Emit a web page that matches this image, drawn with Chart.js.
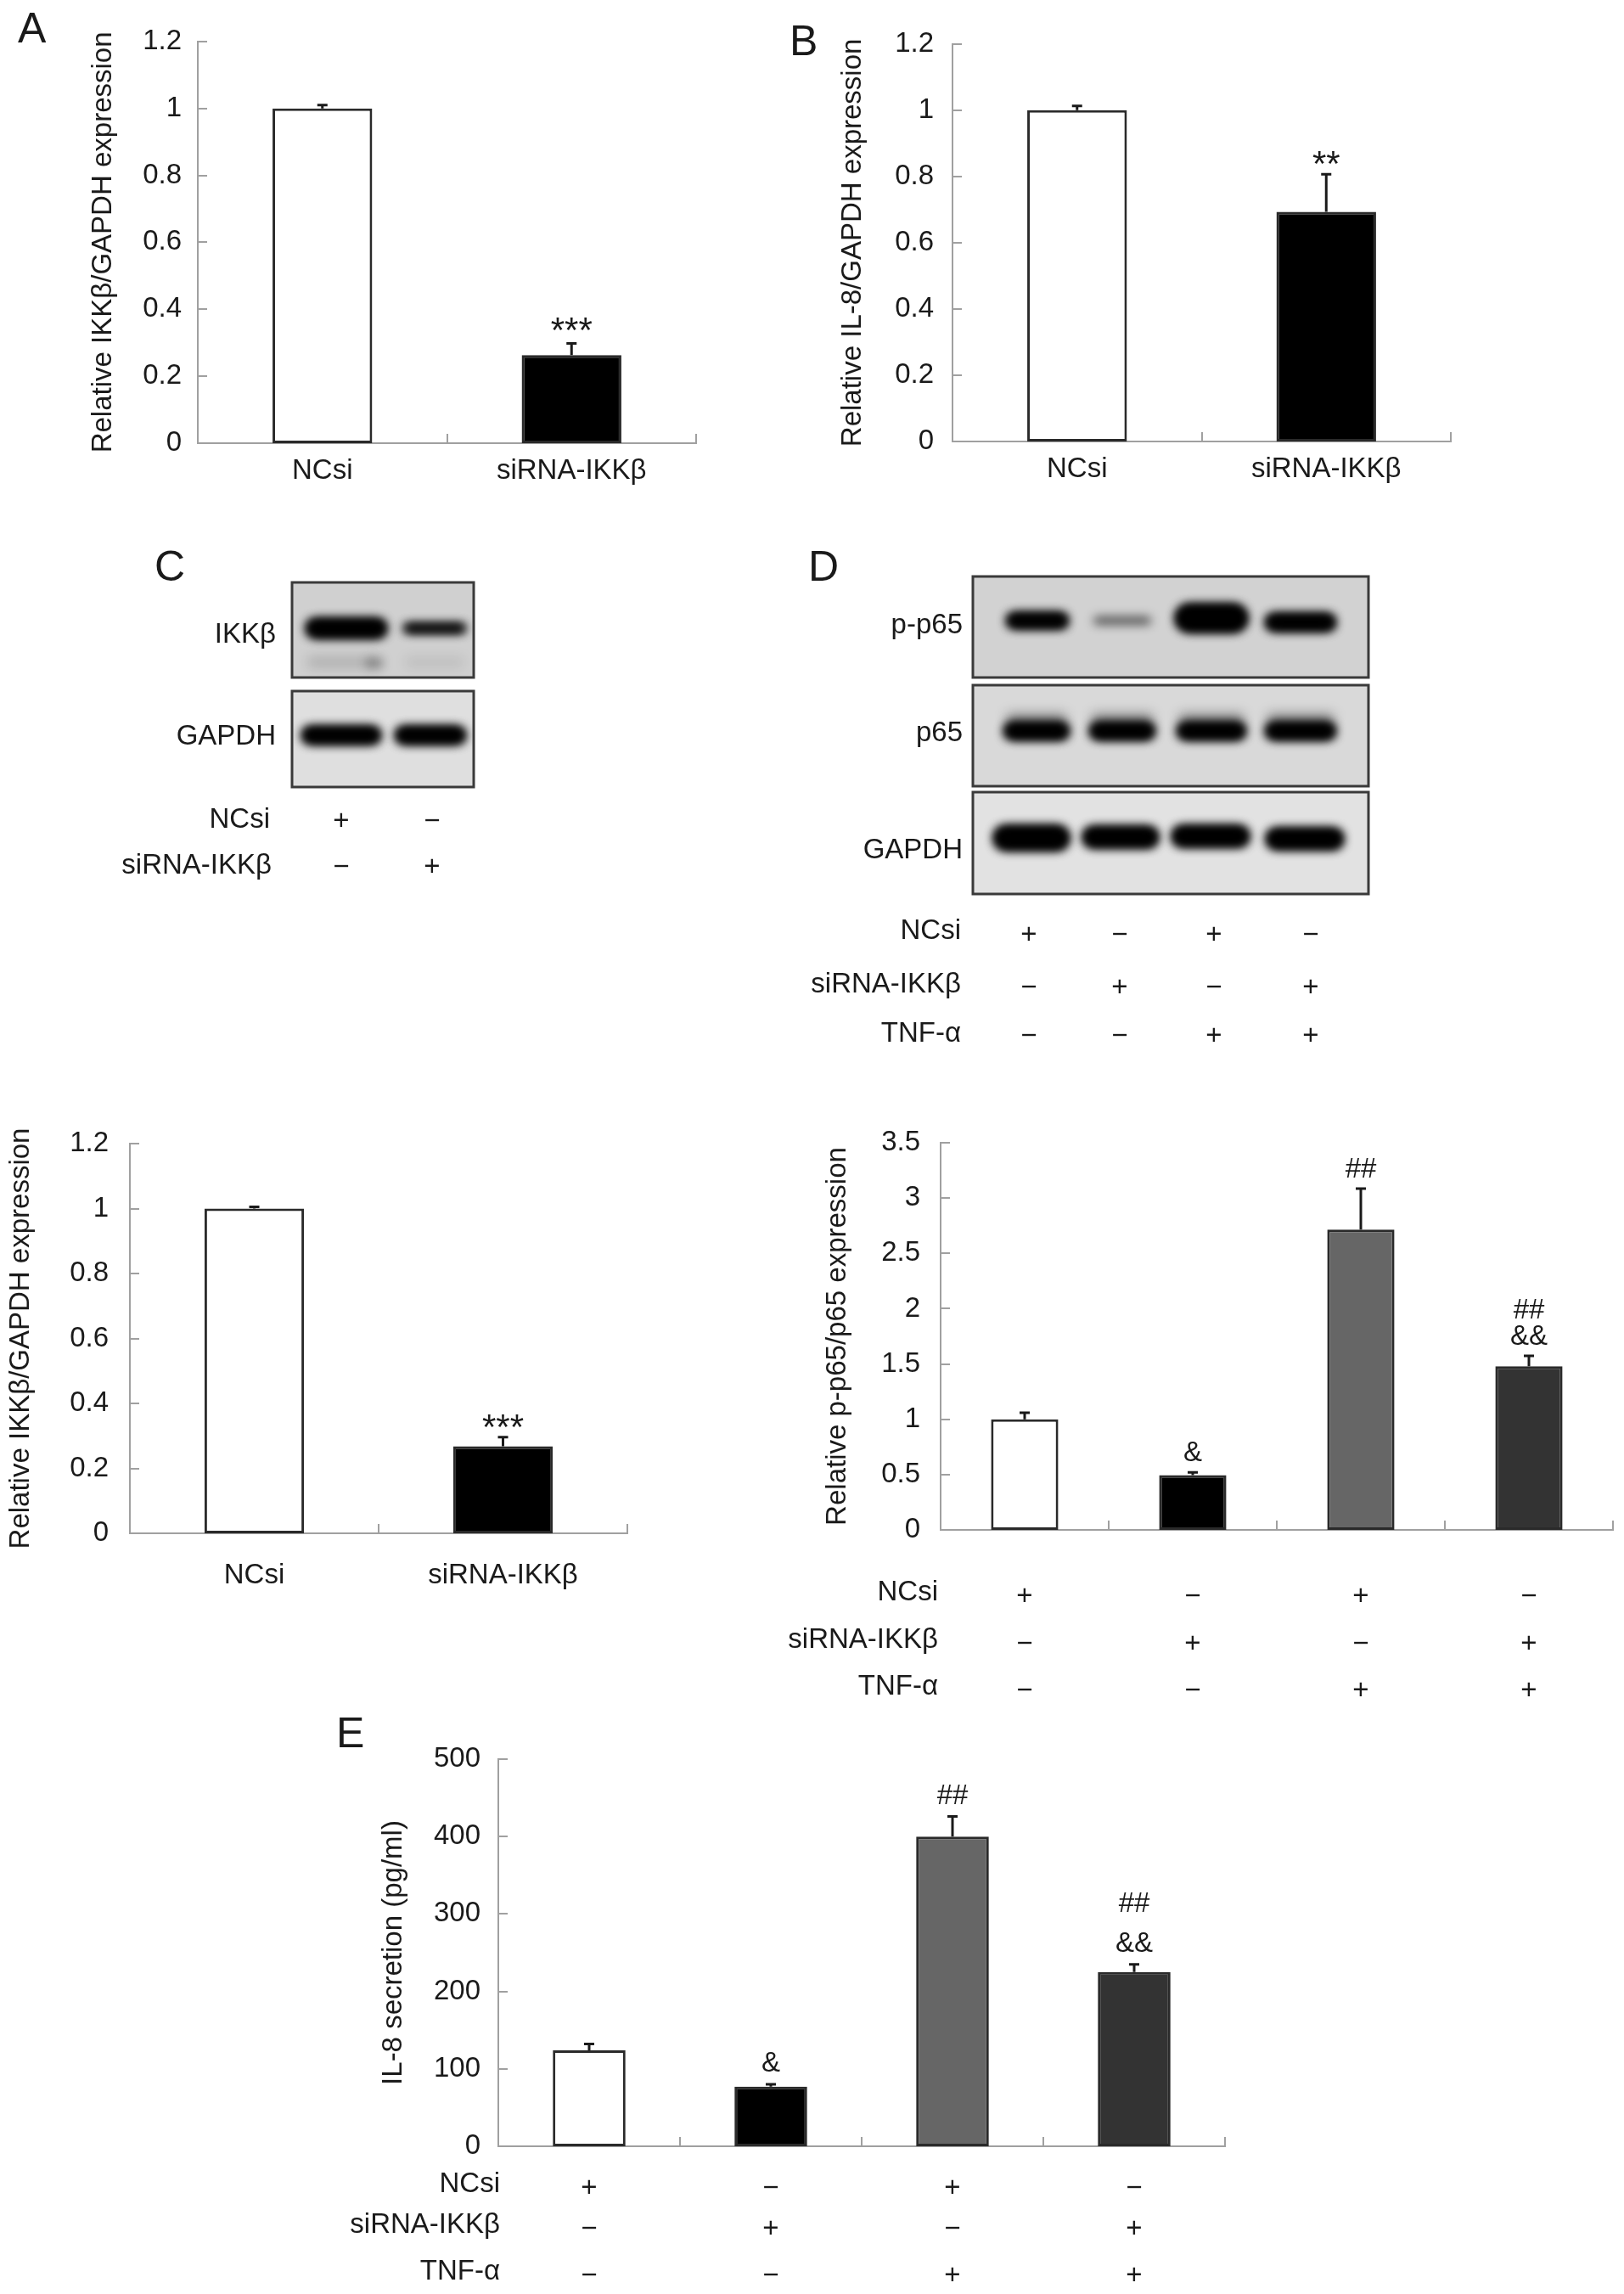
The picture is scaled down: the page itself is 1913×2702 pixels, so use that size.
<!DOCTYPE html>
<html>
<head>
<meta charset="utf-8">
<script src="https://cdn.jsdelivr.net/npm/chart.js@4.4.1/dist/chart.umd.min.js"></script>
<style>
  html, body { margin: 0; padding: 0; background: #fff; }
  #page { position: relative; width: 1913px; height: 2702px; overflow: hidden;
          font-family: 'Liberation Sans', Arial, sans-serif; color: #1a1a1a; }
  canvas { position: absolute; }
  .txt { position: absolute; white-space: nowrap; line-height: 1; }
</style>
</head>
<body>
<div id="page">
  <canvas id="blots" width="1913" height="1300" style="left:0;top:0"></canvas>
  <canvas id="chartA"></canvas>
  <canvas id="chartB"></canvas>
  <canvas id="chartC"></canvas>
  <canvas id="chartD"></canvas>
  <canvas id="chartE"></canvas>
</div>
<script>
// ---- data ----
const twoGroups = ['NCsi', 'siRNA-IKKβ'];
const fourGroups = ['NCsi', 'siRNA-IKKβ', 'NCsi + TNF-α', 'siRNA-IKKβ + TNF-α'];

const ikkMrna = [1.0, 0.263];
const ikkMrnaErr = [0.01, 0.035];
const il8Mrna = [1.0, 0.693];
const il8MrnaErr = [0.013, 0.114];
const ikkProtein = [1.0, 0.268];
const ikkProteinErr = [0.005, 0.028];
const pp65Ratio = [1.0, 0.495, 2.716, 1.48];
const pp65RatioErr = [0.06, 0.025, 0.37, 0.094];
const il8Secretion = [124, 77, 400, 225];
const il8SecretionErr = [8, 3, 26, 10];

const sigA = [[], ['***']];
const sigB = [[], ['**']];
const sigC = [[], ['***']];
const sigD = [[], ['&'], ['##'], ['##', '&&']];
const sigE = [[], ['&'], ['##'], ['##', '&&']];

const yTicksRel = [0, 0.2, 0.4, 0.6, 0.8, 1, 1.2];
const yTicksP65 = [0, 0.5, 1, 1.5, 2, 2.5, 3, 3.5];
const yTicksIL8 = [0, 100, 200, 300, 400, 500];

const treatmentNames = ['NCsi', 'siRNA-IKKβ', 'TNF-α'];
const ncsiSigns = ['+', '−', '+', '−'];
const sirnaSigns = ['−', '+', '−', '+'];
const tnfSigns = ['−', '−', '+', '+'];
const ncsiSigns2 = ['+', '−'];
const sirnaSigns2 = ['−', '+'];

const fills2 = ['#ffffff', '#000000'];
const fills4 = ['#ffffff', '#000000', '#666666', '#333333'];

const FONT = "'Liberation Sans', Arial, sans-serif";
const AXIS_GRAY = '#a0a0a0';
const INK = '#1a1a1a';

// ---- static text ----
const page = document.getElementById('page');
function addText(str, x, cy, size, align) {
  const d = document.createElement('div');
  d.className = 'txt';
  d.textContent = str;
  d.style.fontSize = size + 'px';
  d.style.left = x + 'px';
  d.style.top = (cy - 0.4885 * size) + 'px';
  if (align === 'right') d.style.transform = 'translateX(-100%)';
  if (align === 'center') d.style.transform = 'translateX(-50%)';
  page.appendChild(d);
}

// panel letters
addText('A', 21, 32, 50);
addText('B', 930, 47, 50);
addText('C', 182, 666, 50);
addText('D', 952, 666, 50);
addText('E', 396, 2040, 50);

// blot C labels
addText('IKKβ', 325, 745, 33, 'right');
addText('GAPDH', 325, 865, 33, 'right');
addText('NCsi', 318, 963, 33, 'right');
addText('siRNA-IKKβ', 320, 1017, 33, 'right');
const laneC = [402, 509];
laneC.forEach((x, i) => {
  addText(ncsiSigns2[i], x, 965, 33, 'center');
  addText(sirnaSigns2[i], x, 1019, 33, 'center');
});

// blot D labels
addText('p-p65', 1134, 734, 33, 'right');
addText('p65', 1134, 861, 33, 'right');
addText('GAPDH', 1134, 999, 33, 'right');
addText('NCsi', 1132, 1094, 33, 'right');
addText('siRNA-IKKβ', 1132, 1157, 33, 'right');
addText('TNF-α', 1132, 1215, 33, 'right');
const laneD = [1212, 1319, 1430, 1544];
laneD.forEach((x, i) => {
  addText(ncsiSigns[i], x, 1099, 33, 'center');
  addText(sirnaSigns[i], x, 1161, 33, 'center');
  addText(tnfSigns[i], x, 1218, 33, 'center');
});

// ---- western blot images ----
function drawBlot(ctx, box, bands) {
  ctx.save();
  ctx.fillStyle = box.bg;
  ctx.fillRect(box.x, box.y, box.w, box.h);
  ctx.beginPath();
  ctx.rect(box.x, box.y, box.w, box.h);
  ctx.clip();
  bands.forEach(b => {
    ctx.filter = 'blur(' + (b.blur || 6) + 'px)';
    ctx.globalAlpha = b.a;
    ctx.fillStyle = '#000';
    ctx.beginPath();
    ctx.roundRect(b.cx - b.w / 2, b.cy - b.h / 2, b.w, b.h, b.h / 2);
    ctx.fill();
    if (b.a === 1) ctx.fill(); // second pass keeps the core saturated
  });
  ctx.restore();
  ctx.strokeStyle = '#3a3a3a';
  ctx.lineWidth = 3;
  ctx.strokeRect(box.x, box.y, box.w, box.h);
}

const bctx = document.getElementById('blots').getContext('2d');
drawBlot(bctx, { x: 344, y: 686, w: 214, h: 112, bg: '#d0d0d0' }, [
  { cx: 408, cy: 740, w: 94, h: 22, a: 1 },
  { cx: 512, cy: 740, w: 72, h: 10, a: 1 },
  { cx: 404, cy: 780, w: 86, h: 14, a: 0.15, blur: 7 },
  { cx: 441, cy: 781, w: 22, h: 12, a: 0.3, blur: 6 },
  { cx: 512, cy: 780, w: 70, h: 12, a: 0.09, blur: 7 }
]);
drawBlot(bctx, { x: 344, y: 814, w: 214, h: 113, bg: '#dfdfdf' }, [
  { cx: 402, cy: 866, w: 92, h: 20, a: 1 },
  { cx: 507, cy: 866, w: 82, h: 20, a: 1 }
]);
drawBlot(bctx, { x: 1146, y: 679, w: 466, h: 119, bg: '#d2d2d2' }, [
  { cx: 1222, cy: 731, w: 72, h: 18, a: 1 },
  { cx: 1322, cy: 731, w: 68, h: 10, a: 0.6, blur: 6 },
  { cx: 1427, cy: 728, w: 84, h: 32, a: 1 },
  { cx: 1532, cy: 733, w: 82, h: 20, a: 1 }
]);
drawBlot(bctx, { x: 1146, y: 807, w: 466, h: 119, bg: '#d9d9d9' }, [
  { cx: 1221, cy: 846, w: 72, h: 12, a: 0.35, blur: 7 },
  { cx: 1322, cy: 846, w: 74, h: 12, a: 0.35, blur: 7 },
  { cx: 1427, cy: 846, w: 78, h: 12, a: 0.35, blur: 7 },
  { cx: 1532, cy: 846, w: 80, h: 12, a: 0.35, blur: 7 },
  { cx: 1221, cy: 861, w: 76, h: 20, a: 1 },
  { cx: 1322, cy: 861, w: 76, h: 20, a: 1 },
  { cx: 1427, cy: 861, w: 80, h: 20, a: 1 },
  { cx: 1532, cy: 861, w: 82, h: 20, a: 1 }
]);
drawBlot(bctx, { x: 1146, y: 933, w: 466, h: 120, bg: '#e2e2e2' }, [
  { cx: 1215, cy: 987, w: 88, h: 28, a: 1 },
  { cx: 1320, cy: 986, w: 88, h: 24, a: 1 },
  { cx: 1426, cy: 985, w: 90, h: 24, a: 1 },
  { cx: 1537, cy: 988, w: 90, h: 24, a: 1 }
]);

// ---- chart extras: inner ticks, error bars, significance marks, treatment rows ----
const figureExtras = {
  id: 'figureExtras',
  afterDatasetsDraw(chart, args, opts) {
    const { ctx, chartArea, scales: { x, y } } = chart;
    const values = chart.data.datasets[0].data;
    const meta = chart.getDatasetMeta(0);
    ctx.save();
    // tick marks drawn inside the axes
    ctx.strokeStyle = AXIS_GRAY;
    ctx.lineWidth = 2;
    ctx.beginPath();
    y.ticks.forEach(t => {
      if (t.value === 0) return;
      const py = Math.round(y.getPixelForValue(t.value));
      ctx.moveTo(chartArea.left, py);
      ctx.lineTo(chartArea.left + 11, py);
    });
    for (let i = 1; i <= values.length; i++) {
      const px = Math.round(x.getPixelForValue(i - 0.5));
      ctx.moveTo(px, chartArea.bottom);
      ctx.lineTo(px, chartArea.bottom - 11);
    }
    ctx.stroke();
    // error bars (upper half only)
    ctx.strokeStyle = INK;
    ctx.lineWidth = 3;
    ctx.beginPath();
    opts.errors.forEach((e, i) => {
      const bar = meta.data[i];
      const top = y.getPixelForValue(values[i] + e);
      ctx.moveTo(bar.x, bar.y);
      ctx.lineTo(bar.x, top);
      ctx.moveTo(bar.x - 6, top);
      ctx.lineTo(bar.x + 6, top);
    });
    ctx.stroke();
    // significance marks
    ctx.fillStyle = INK;
    ctx.textAlign = 'center';
    ctx.textBaseline = 'middle';
    opts.notes.forEach((lines, i) => {
      const bar = meta.data[i];
      const top = y.getPixelForValue(values[i] + opts.errors[i]);
      lines.slice().reverse().forEach((s, k) => {
        const star = s.indexOf('*') >= 0;
        const size = star ? 42 : 33;
        ctx.font = size + 'px ' + FONT;
        const cy = top - opts.noteGap - k * opts.noteStep;
        ctx.fillText(s, bar.x, cy + (star ? 0.225 * size : 0));
      });
    });
    // treatment rows under the x axis
    if (opts.rows) {
      ctx.font = '33px ' + FONT;
      opts.rows.forEach((row, r) => {
        const cy = chartArea.bottom + opts.rowOffsets[r];
        ctx.textAlign = 'right';
        ctx.fillText(row.name, chartArea.left + opts.rowLabelDx, cy);
        ctx.textAlign = 'center';
        row.signs.forEach((s, i) => {
          ctx.fillText(s, x.getPixelForValue(i), cy + 5);
        });
      });
    }
    ctx.restore();
  }
};

function makeChart(id, c) {
  const cv = document.getElementById(id);
  cv.width = c.w;
  cv.height = c.h;
  cv.style.left = c.x + 'px';
  cv.style.top = c.y + 'px';
  const tickFont = { family: FONT, size: 33 };
  return new Chart(cv, {
    type: 'bar',
    data: {
      labels: c.labels,
      datasets: [{
        data: c.values,
        backgroundColor: c.colors,
        borderColor: '#2a2a2a',
        borderWidth: 3,
        borderSkipped: false,
        categoryPercentage: 0.5,
        barPercentage: 0.8
      }]
    },
    options: {
      responsive: false,
      animation: false,
      devicePixelRatio: 1,
      layout: { padding: { left: c.padLeft || 0, top: c.padTop, right: c.padRight, bottom: 0 } },
      plugins: {
        legend: { display: false },
        tooltip: { enabled: false },
        figureExtras: c.extras
      },
      scales: {
        x: {
          grid: { display: false, drawTicks: false },
          border: { color: AXIS_GRAY, width: 2 },
          ticks: { display: c.showX, color: INK, font: tickFont, padding: c.xPad, maxRotation: 0, autoSkip: false },
          afterFit: s => { s.height = c.axisH; }
        },
        y: {
          min: c.yTicks[0],
          max: c.yTicks[c.yTicks.length - 1],
          grid: { display: false, drawTicks: false },
          border: { color: AXIS_GRAY, width: 2 },
          ticks: {
            stepSize: c.yTicks[1] - c.yTicks[0], color: INK, font: tickFont, padding: c.yPad,
            callback: v => String(Number(v.toFixed(3)))
          },
          title: { display: true, text: c.title, color: INK, font: { family: FONT, size: 33 }, padding: 0 },
          afterFit: s => { s.width = c.axisW; }
        }
      }
    },
    plugins: [figureExtras]
  });
}

makeChart('chartA', {
  x: 102, y: 10, w: 740, h: 582, axisW: 131, axisH: 70, padTop: 34, padRight: 22,
  labels: twoGroups, values: ikkMrna, colors: fills2, yTicks: yTicksRel,
  title: 'Relative IKKβ/GAPDH expression', showX: true, xPad: 13, yPad: 19,
  extras: { errors: ikkMrnaErr, notes: sigA, noteGap: 23, noteStep: 30 }
});

makeChart('chartB', {
  x: 985, y: 10, w: 746, h: 580, axisW: 137, axisH: 70, padTop: 33, padRight: 22,
  labels: twoGroups, values: il8Mrna, colors: fills2, yTicks: yTicksRel,
  title: 'Relative IL-8/GAPDH expression', showX: true, xPad: 13, yPad: 22,
  extras: { errors: il8MrnaErr, notes: sigB, noteGap: 19, noteStep: 30 }
});

makeChart('chartC', {
  x: 5, y: 1300, w: 756, h: 596, axisW: 148, axisH: 90, padTop: 47, padRight: 22,
  labels: twoGroups, values: ikkProtein, colors: fills2, yTicks: yTicksRel,
  title: 'Relative IKKβ/GAPDH expression', showX: true, xPad: 30, yPad: 25,
  extras: { errors: ikkProteinErr, notes: sigC, noteGap: 19, noteStep: 30 }
});

// canvas starts further left than the y axis so the treatment names fit
makeChart('chartD', {
  x: 900, y: 1300, w: 1010, h: 717, padLeft: 67, axisW: 141, axisH: 215, padTop: 46, padRight: 10,
  labels: fourGroups, values: pp65Ratio, colors: fills4, yTicks: yTicksP65,
  title: 'Relative p-p65/p65 expression', showX: false, xPad: 0, yPad: 24,
  extras: {
    errors: pp65RatioErr, notes: sigD, noteGap: 22, noteStep: 31,
    rows: [
      { name: treatmentNames[0], signs: ncsiSigns },
      { name: treatmentNames[1], signs: sirnaSigns },
      { name: treatmentNames[2], signs: tnfSigns }
    ],
    rowOffsets: [74, 130, 185], rowLabelDx: -3
  }
});

makeChart('chartE', {
  x: 380, y: 2030, w: 1085, h: 668, padLeft: 64, axisW: 143, axisH: 170, padTop: 42, padRight: 22,
  labels: fourGroups, values: il8Secretion, colors: fills4, yTicks: yTicksIL8,
  title: 'IL-8 secretion (pg/ml)', showX: false, xPad: 0, yPad: 21,
  extras: {
    errors: il8SecretionErr, notes: sigE, noteGap: 24, noteStep: 47,
    rows: [
      { name: treatmentNames[0], signs: ncsiSigns },
      { name: treatmentNames[1], signs: sirnaSigns },
      { name: treatmentNames[2], signs: tnfSigns }
    ],
    rowOffsets: [45, 93, 148], rowLabelDx: 2
  }
});
</script>
</body>
</html>
